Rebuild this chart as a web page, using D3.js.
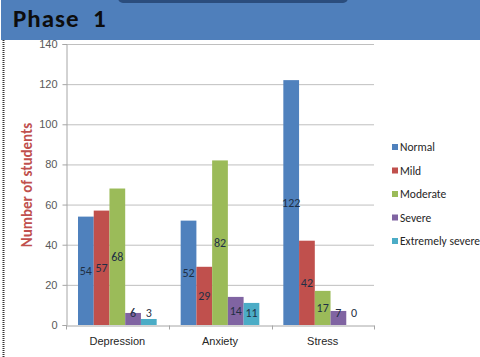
<!DOCTYPE html>
<html>
<head>
<meta charset="utf-8">
<script src="https://cdn.jsdelivr.net/npm/d3@7"></script>
<style>
body { margin: 0; background: #fff; }
svg { display: block; font-family: Calibri, Carlito, Lato, "Liberation Sans", Arial, sans-serif; }
</style>
</head>
<body>
<svg width="480" height="357"></svg>
<script>
var categories = ["Depression", "Anxiety", "Stress"];
var seriesNames = ["Normal", "Mild", "Moderate", "Severe", "Extremely severe"];
var seriesColors = ["#4F81BD", "#C0504D", "#9BBB59", "#8064A2", "#4BACC6"];
var normal = [54, 52, 122];
var mild = [57, 29, 42];
var moderate = [68, 82, 17];
var severe = [6, 14, 7];
var extremelySevere = [3, 11, 0];
var yTicks = [0, 20, 40, 60, 80, 100, 120, 140];

var allSeries = [normal, mild, moderate, severe, extremelySevere];

var svg = d3.select('svg');

// header band
svg.append('rect')
    .attr('x', 1).attr('y', 0)
    .attr('width', 479).attr('height', 40)
    .attr('fill', '#4F7FBB');

svg.append('rect')
    .attr('x', 118).attr('y', -10)
    .attr('width', 230).attr('height', 13)
    .attr('rx', 5)
    .attr('fill', '#2B4D7D');

svg.append('text')
    .text('Phase\u00a0\u00a01')
    .attr('x', 13).attr('y', 27)
    .attr('font-size', 25)
    .attr('font-weight', 'bold')
    .attr('letter-spacing', 1)
    .attr('fill', '#0d0d0d');

// dotted border on the left
svg.append('line')
    .attr('x1', 3.5).attr('x2', 3.5)
    .attr('y1', 40).attr('y2', 357)
    .attr('stroke', '#333')
    .attr('stroke-width', 2)
    .attr('stroke-dasharray', '1,1');

var scaleX = d3.scaleBand().domain(categories).range([66, 374]).paddingInner(0).paddingOuter(0);
var scaleY = d3.scaleLinear().domain([0, 140]).range([325, 44]);
var scaleSub = d3.scaleBand().domain(seriesNames).range([12, scaleX.bandwidth() - 12]);

var chart = svg.append('g');

// gridlines
chart.selectAll('.grid')
    .data(yTicks.slice(1))
    .enter()
    .append('line')
    .attr('x1', 66).attr('x2', 374)
    .attr('y1', function(d) { return scaleY(d) + 0.5; })
    .attr('y2', function(d) { return scaleY(d) + 0.5; })
    .attr('stroke', '#BFBFBF');

// y axis
var yAxis = chart.append('g')
    .attr('transform', 'translate(66.5,0)')
    .call(d3.axisLeft(scaleY).tickValues(yTicks).tickSize(4).tickPadding(5));
yAxis.select('.domain').attr('stroke', '#A6A6A6');
yAxis.selectAll('.tick line').attr('stroke', '#A6A6A6');
yAxis.selectAll('text').attr('font-size', 11).attr('fill', '#595959').attr('font-family', null);

// x axis
var xAxis = chart.append('g')
    .attr('transform', 'translate(0,325.5)')
    .call(d3.axisBottom(scaleX).tickSize(0).tickPadding(12));
xAxis.select('.domain').attr('stroke', '#A6A6A6');
xAxis.selectAll('text').attr('font-size', 11).attr('fill', '#262626').attr('font-family', null);
xAxis.selectAll('.sep')
    .data([66, 169, 272, 374])
    .enter()
    .append('line')
    .attr('x1', function(d) { return d + 0.5; })
    .attr('x2', function(d) { return d + 0.5; })
    .attr('y1', 0).attr('y2', 4)
    .attr('stroke', '#A6A6A6');

// bars
seriesNames.forEach(function(name, i) {
    var vals = allSeries[i];
    var g = chart.append('g');
    g.selectAll('rect')
        .data(vals)
        .enter()
        .append('rect')
        .attr('x', function(d, j) { return scaleX(categories[j]) + scaleSub(name); })
        .attr('y', function(d) { return scaleY(d); })
        .attr('width', scaleSub.bandwidth())
        .attr('height', function(d) { return scaleY(0) - scaleY(d); })
        .attr('fill', seriesColors[i]);

    g.selectAll('text')
        .data(vals)
        .enter()
        .append('text')
        .text(function(d) { return d; })
        .attr('x', function(d, j) { return scaleX(categories[j]) + scaleSub(name) + scaleSub.bandwidth() / 2; })
        .attr('y', function(d) { return Math.min(scaleY(d / 2), scaleY(0) - 12); })
        .attr('dy', '0.35em')
        .attr('text-anchor', 'middle')
        .attr('font-size', 12)
        .attr('fill', '#1F2F45');
});

// y title
svg.append('text')
    .text('Number of students')
    .attr('transform', 'translate(32,185)rotate(-90)')
    .attr('text-anchor', 'middle')
    .attr('font-size', 15)
    .attr('font-weight', 'bold')
    .attr('fill', '#C0504D');

// legend
var legend = svg.selectAll('.legend')
    .data(seriesNames)
    .enter()
    .append('g')
    .attr('transform', function(d, i) { return 'translate(392,' + (147 + i * 23.5) + ')'; });

legend.append('rect')
    .attr('x', 0).attr('y', -3)
    .attr('width', 6).attr('height', 6)
    .attr('fill', function(d, i) { return seriesColors[i]; });

legend.append('text')
    .text(function(d) { return d; })
    .attr('x', 8).attr('y', 0)
    .attr('dy', '0.35em')
    .attr('font-size', 11.5)
    .attr('fill', '#262626');
</script>
</body>
</html>
